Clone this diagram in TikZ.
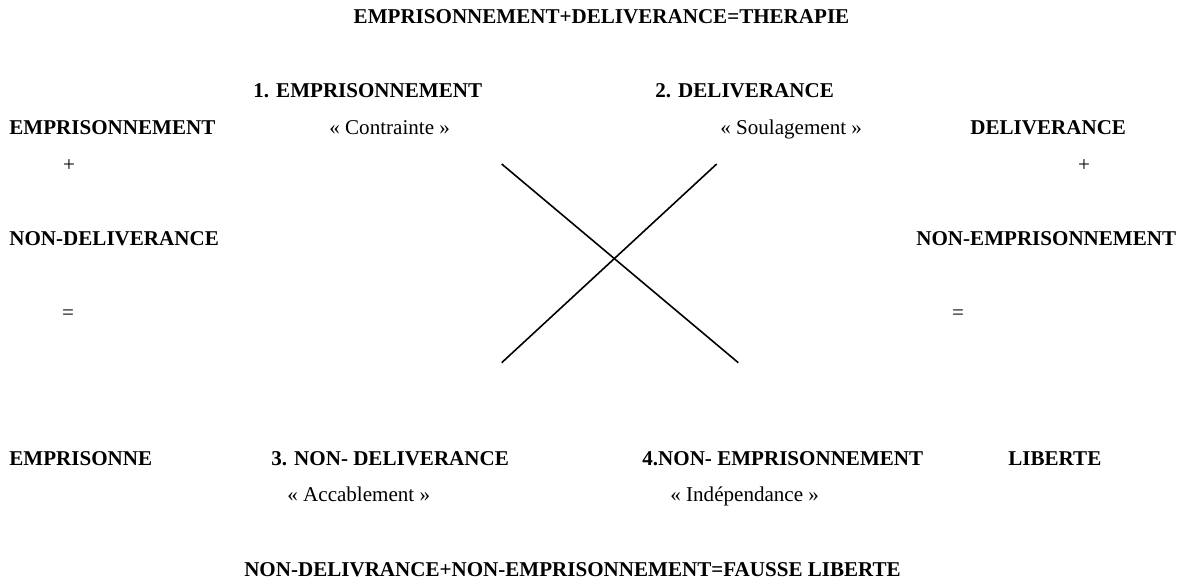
\documentclass[tikz,border=0pt]{standalone}
\usepackage{fontspec}
\setmainfont{Liberation Serif}
\begin{document}
\begin{tikzpicture}[x=0.5pt, y=-0.5pt]

\useasboundingbox (0,0) rectangle (1185,581);
\tikzset{every node/.style={inner sep=0pt, anchor=base west, font=\fontsize{10.53}{12}\selectfont}}
\tikzset{boldlabel/.style={font=\fontsize{10.53}{12}\selectfont\bfseries}}
\node [boldlabel, anchor=base] (toptitle) at (601.5, 24) {EMPRISONNEMENT+DELIVERANCE=THERAPIE};
\node [boldlabel] (emp1) at (253, 98) {1. EMPRISONNEMENT};
\node [boldlabel] (del2) at (655, 98) {2. DELIVERANCE};
\node [boldlabel] (empL) at (9, 135) {EMPRISONNEMENT};
\node (contr) at (329, 135) {« Contrainte »};
\node (soul) at (720, 135) {« Soulagement »};
\node [boldlabel] (delR) at (970, 135) {DELIVERANCE};
\node [anchor=base] (plusL) at (69, 172) {+};
\node [anchor=base] (plusR) at (1084, 172) {+};
\node [boldlabel] (ndelL) at (9, 246) {NON-DELIVERANCE};
\node [boldlabel] (nempR) at (916, 246) {NON-EMPRISONNEMENT};
\node [anchor=base] (eqL) at (68, 320) {=};
\node [anchor=base] (eqR) at (958, 320) {=};
\node [boldlabel] (empB) at (9, 466) {EMPRISONNE};
\node [boldlabel] (ndel3) at (271, 466) {3. NON- DELIVERANCE};
\node [boldlabel] (nemp4) at (642, 466) {4.NON- EMPRISONNEMENT};
\node [boldlabel] (libR) at (1008, 466) {LIBERTE};
\node (accab) at (287, 502) {« Accablement »};
\node (indep) at (670, 502) {« Indépendance »};
\node [boldlabel, anchor=base] (bottitle) at (572.5, 577) {NON-DELIVRANCE+NON-EMPRISONNEMENT=FAUSSE LIBERTE};

\coordinate (crossTL) at (501.7, 164);
\coordinate (crossTR) at (716.7, 164);
\coordinate (crossBL) at (501.7, 362.7);
\coordinate (crossBR) at (738.3, 362.7);

\tikzset{crossline/.style={line width=0.8pt}};
\path (crossTL) edge [crossline] (crossBR);
\path (crossTR) edge [crossline] (crossBL);
\end{tikzpicture}
\end{document}
